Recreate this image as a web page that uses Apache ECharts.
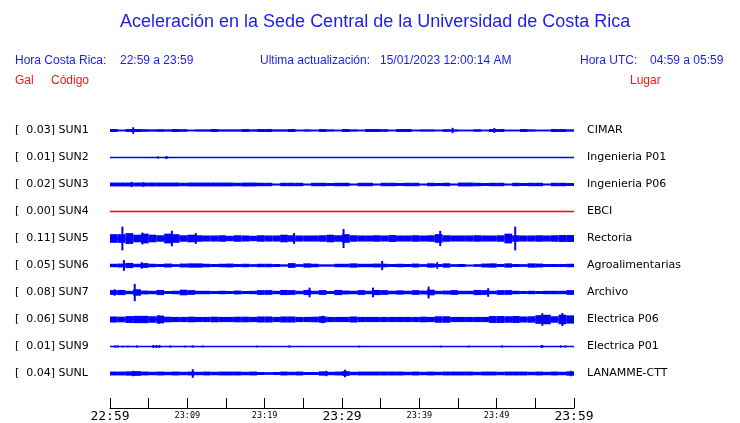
<!DOCTYPE html>
<html>
<head>
<meta charset="utf-8">
<script src="https://cdn.jsdelivr.net/npm/echarts@6/dist/echarts.min.js"></script>
<style>
  html, body { margin: 0; padding: 0; background: #fff; }
  #chart { width: 740px; height: 423px; }
</style>
</head>
<body>
<div id="chart"></div>
<script>
// estaciones
const stationCodes = ["SUN1", "SUN2", "SUN3", "SUN4", "SUN5", "SUN6", "SUN7", "SUN8", "SUN9", "SUNL"];
const peakGal = ["0.03", "0.01", "0.02", "0.00", "0.11", "0.05", "0.08", "0.06", "0.01", "0.04"];
const placeNames = ["CIMAR", "Ingenieria P01", "Ingenieria P06", "EBCI", "Rectoria",
  "Agroalimentarias", "Archivo", "Electrica P06", "Electrica P01", "LANAMME-CTT"];

// etiquetas del eje de tiempo (cada 10 min)
const tickLabels = ["22:59", "23:09", "23:19", "23:29", "23:39", "23:49", "23:59"];

// envolvente por minuto (mGal, media amplitud)
const sun1Band = [14,7,14,14,12,10,12,10,14,12, 7,10,10,14,10,10,10,14,10,14,
  14,10,10,14,7,10,7,14,10,7, 14,10,7,14,14,12,7,14,14,7,
  10,10,7,12,10,7,7,12,7,14, 14,7,7,14,10,7,7,14,14,10];
const sun2Band = [];
const sun3Band = [18,18,18,18,18,18,18,18,18,16, 18,18,18,18,18,18,16,18,18,16,
  16,8,16,16,16,8,16,16,14,16, 16,8,16,16,8,16,16,14,16,16,
  8,16,14,16,8,18,18,16,14,16, 16,8,16,14,16,16,8,16,16,14];
const sun4Band = [];
const sun5Band = [40,40,50,35,45,35,30,45,40,30, 35,30,28,28,30,25,30,28,25,30,
  28,28,35,30,28,28,28,30,35,30, 40,30,28,28,30,28,32,28,28,30,
  28,30,40,30,28,28,28,30,28,28, 30,45,30,28,28,30,28,30,32,32];
const sun6Band = [16,18,24,16,22,16,14,18,12,18, 20,20,16,14,16,18,14,16,12,16,
  16,14,10,22,12,20,16,10,10,16, 16,20,16,16,18,16,14,16,14,18,
  12,20,14,20,12,14,8,12,18,20, 14,20,14,12,20,18,14,14,14,16];
const sun7Band = [22,24,16,30,18,16,24,14,16,26, 22,16,16,14,16,14,18,14,16,22,
  22,16,24,22,16,24,16,22,14,24, 18,16,22,16,24,22,16,20,16,22,
  18,26,16,18,22,16,16,24,22,16, 22,22,16,14,16,14,16,16,16,22];
const sun8Band = [28,26,32,34,34,30,36,26,24,24, 26,24,24,26,24,24,26,26,24,28,
  28,24,28,28,24,24,26,30,24,24, 24,28,24,24,24,24,24,24,24,24,
  26,24,30,30,24,24,24,24,24,32, 32,30,32,28,30,40,44,30,44,38];
const sun9Band = [];
const sunlBand = [18,18,20,22,18,16,18,16,18,16, 18,16,18,16,18,18,18,16,18,14,
  12,14,18,16,18,14,14,20,16,18, 22,16,18,18,18,18,18,18,16,18,
  16,18,16,18,18,18,18,16,18,18, 16,18,18,18,16,18,16,18,16,20];

// picos [minuto, mGal]
const sun1Spikes = [[3.0, 30], [44.3, 25], [49.7, 22]];
const sun2Spikes = [[6.2, 10], [7.3, 14]];
const sun3Spikes = [[2.8, 24], [4.3, 20]];
const sun4Spikes = [];
const sun5Spikes = [[1.6, 110], [4.2, 55], [8.0, 72], [11.1, 50], [23.8, 50], [30.2, 88], [42.7, 70], [52.4, 110]];
const sun6Spikes = [[1.8, 50], [4.1, 30], [35.2, 42], [42.3, 30]];
const sun7Spikes = [[0.6, 30], [3.2, 80], [25.8, 45], [34.0, 45], [41.2, 55], [48.9, 40]];
const sun8Spikes = [[6.3, 40], [27.5, 35], [55.9, 58], [58.5, 60]];
const sun9Spikes = [[0.65, 10], [1.0, 10], [1.7, 8], [2.3, 8], [3.5, 10], [5.6, 14], [6.0, 14], [6.4, 14],
  [7.8, 10], [9.7, 8], [10.7, 10], [12.0, 8], [19.0, 8], [23.2, 10], [32.2, 8], [42.8, 8],
  [46.4, 8], [50.7, 10], [55.8, 12], [55.9, 12], [58.3, 10], [58.9, 10]];
const sunlSpikes = [[3.0, 25], [10.7, 40], [28.0, 25], [30.4, 35], [59.6, 25]];

const bands = [sun1Band, sun2Band, sun3Band, sun4Band, sun5Band, sun6Band, sun7Band, sun8Band, sun9Band, sunlBand];
const spikes = [sun1Spikes, sun2Spikes, sun3Spikes, sun4Spikes, sun5Spikes, sun6Spikes, sun7Spikes, sun8Spikes, sun9Spikes, sunlSpikes];

const ROW = 250; // mGal por fila
const BLUE = "#0000ff";
const RED = "#ff0000";
const TXT_BLUE = "#1c1cf0";
const TXT_RED = "#f01818";
const rowCenter = (i) => ROW * i + ROW / 2;
const traceColor = (i) => (stationCodes[i] === "SUN4" ? RED : BLUE);

const bandItem = (i) => (params, api) => {
  const m = api.value(0);
  const a = api.value(1);
  const p1 = api.coord([m, rowCenter(i) - a]);
  const p2 = api.coord([m + 1, rowCenter(i) + a]);
  return {
    type: "rect",
    shape: { x: p1[0], y: Math.min(p1[1], p2[1]), width: p2[0] - p1[0], height: Math.abs(p2[1] - p1[1]) },
    style: { fill: traceColor(i) },
  };
};

const spikeItem = (i) => (params, api) => {
  const m = api.value(0);
  const a = api.value(1);
  const p1 = api.coord([m, rowCenter(i) - a]);
  const p2 = api.coord([m, rowCenter(i) + a]);
  return {
    type: "rect",
    shape: { x: p1[0] - 1, y: Math.min(p1[1], p2[1]), width: 2, height: Math.abs(p2[1] - p1[1]) },
    style: { fill: traceColor(i) },
  };
};

const series = [];
stationCodes.forEach((code, i) => {
  series.push({
    name: code,
    type: "line",
    data: [[0, rowCenter(i)], [60, rowCenter(i)]],
    symbol: "none",
    silent: true,
    lineStyle: { color: traceColor(i), width: 1.5 },
  });
  series.push({
    type: "custom",
    renderItem: bandItem(i),
    data: bands[i].map((a, m) => [m, a]),
    encode: { x: 0, y: 1 },
    silent: true,
  });
  series.push({
    type: "custom",
    renderItem: spikeItem(i),
    data: spikes[i],
    encode: { x: 0, y: 1 },
    silent: true,
  });
});

const textEl = (left, top, text, fill, size) => ({
  type: "text",
  left: left,
  top: top,
  style: { text: text, fill: fill, font: size + 'px "Liberation Sans", Arial, sans-serif' },
});

const option = {
  animation: false,
  backgroundColor: "#fff",
  grid: { left: 110, right: 166, top: 117, height: 270, outerBoundsMode: "none", containLabel: false },
  xAxis: {
    type: "value",
    position: "bottom",
    min: 0,
    max: 60,
    interval: 5,
    offset: 21,
    splitLine: { show: false },
    axisLine: { show: true, onZero: false, lineStyle: { color: "#000", width: 1 } },
    axisTick: { show: true, inside: true, length: 10, lineStyle: { color: "#000" } },
    axisLabel: {
      margin: 2,
      color: "#000",
      fontFamily: '"DejaVu Sans Mono", monospace',
      formatter: (v) => {
        if (v % 10 !== 0) return "";
        const lab = tickLabels[v / 10];
        return v % 30 === 0 ? "{big|" + lab + "}" : "{small|" + lab + "}";
      },
      rich: {
        big: { fontSize: 13, fontFamily: '"DejaVu Sans Mono", monospace', color: "#000" },
        small: { fontSize: 8.5, fontFamily: '"DejaVu Sans Mono", monospace', color: "#000", padding: [1, 0, 0, 0] },
      },
    },
  },
  yAxis: [
    { type: "value", min: 0, max: ROW * 10, inverse: true, show: false },
    {
      type: "category",
      data: stationCodes.map((c, i) => "[  " + peakGal[i] + "] " + c),
      inverse: true,
      position: "left",
      axisLine: { show: false },
      axisTick: { show: false },
      axisLabel: { margin: 95, align: "left", color: "#000", fontSize: 11, fontFamily: '"DejaVu Sans"' },
    },
    {
      type: "category",
      data: placeNames,
      inverse: true,
      position: "right",
      axisLine: { show: false },
      axisTick: { show: false },
      axisLabel: { margin: 13, align: "left", color: "#000", fontSize: 11, fontFamily: '"DejaVu Sans"' },
    },
  ],
  graphic: [
    textEl(120, 13, "Aceleración en la Sede Central de la Universidad de Costa Rica", TXT_BLUE, 18),
    textEl(15, 55, "Hora Costa Rica:", TXT_BLUE, 12),
    textEl(120, 55, "22:59 a 23:59", TXT_BLUE, 12),
    textEl(260, 55, "Ultima actualización:", TXT_BLUE, 12),
    textEl(380, 55, "15/01/2023 12:00:14 AM", TXT_BLUE, 12),
    textEl(580, 55, "Hora UTC:", TXT_BLUE, 12),
    textEl(650, 55, "04:59 a 05:59", TXT_BLUE, 12),
    textEl(15, 75, "Gal", TXT_RED, 12),
    textEl(51, 75, "Código", TXT_RED, 12),
    textEl(630, 75, "Lugar", TXT_RED, 12),
  ],
  series: series,
};

const myChart = echarts.init(document.getElementById("chart"));
myChart.setOption(option);
window.addEventListener("resize", () => myChart.resize());
</script>
</body>
</html>
